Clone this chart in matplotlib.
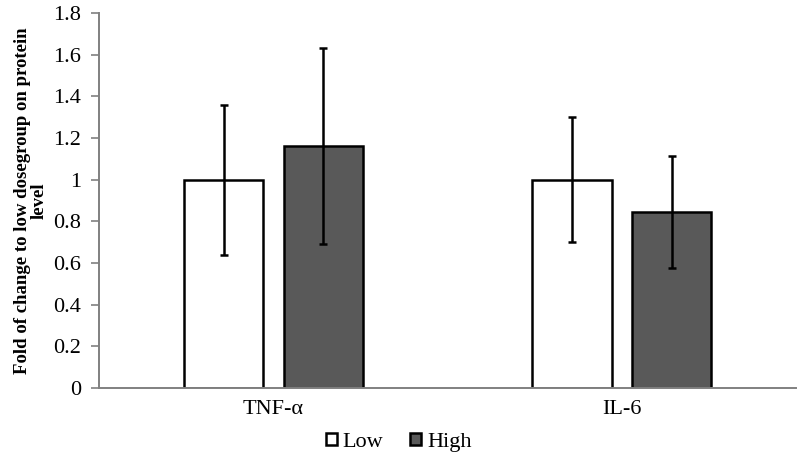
import matplotlib
matplotlib.use("Agg")
import matplotlib.pyplot as plt
import numpy as np

# values
cytokines = ["TNF-α", "IL-6"]
low_mean = [1.0, 1.0]
low_err = [0.36, 0.30]
high_mean = [1.16, 0.845]
high_err = [0.47, 0.27]

plt.rcParams["font.family"] = ["Liberation Serif", "DejaVu Serif"]

fig = plt.figure(figsize=(8, 4.58), dpi=100)
ax = fig.add_axes([0.124, 0.153, 0.871, 0.819])

x = np.arange(len(cytokines))
w = 0.227
off = 0.143
ekw = dict(elinewidth=1.8, capthick=1.8, ecolor="black")

ax.bar(x - off, low_mean, w, yerr=low_err, capsize=3, color="white",
       edgecolor="black", linewidth=1.8, error_kw=ekw, label="Low")
ax.bar(x + off, high_mean, w, yerr=high_err, capsize=3, color="#595959",
       edgecolor="black", linewidth=1.8, error_kw=ekw, label="High")

ax.set_xlim(-0.5, 1.5)
ax.set_ylim(0, 1.8)
ax.set_yticks(np.arange(0, 1.81, 0.2))
ax.set_yticklabels(["0", "0.2", "0.4", "0.6", "0.8", "1", "1.2", "1.4", "1.6", "1.8"])
ax.set_xticks(x)
ax.set_xticklabels(cytokines)
ax.tick_params(axis="x", length=0, labelsize=16, pad=9)
ax.tick_params(axis="y", length=6, width=1.2, color="#808080", labelsize=16, pad=7)

for s in ["top", "right"]:
    ax.spines[s].set_visible(False)
for s in ["left", "bottom"]:
    ax.spines[s].set_color("#808080")
    ax.spines[s].set_linewidth(1.4)

ax.set_ylabel("Fold of change to low dosegroup on protein\nlevel",
              fontsize=13.5, fontweight="bold", labelpad=4, linespacing=1.0)

ax.legend(loc="center", bbox_to_anchor=(0.43, -0.145), ncol=2,
          frameon=False, fontsize=16, handlelength=0.5, handleheight=0.5,
          handletextpad=0.25, columnspacing=1.2, borderpad=0)

fig.savefig("out.png", dpi=100)
